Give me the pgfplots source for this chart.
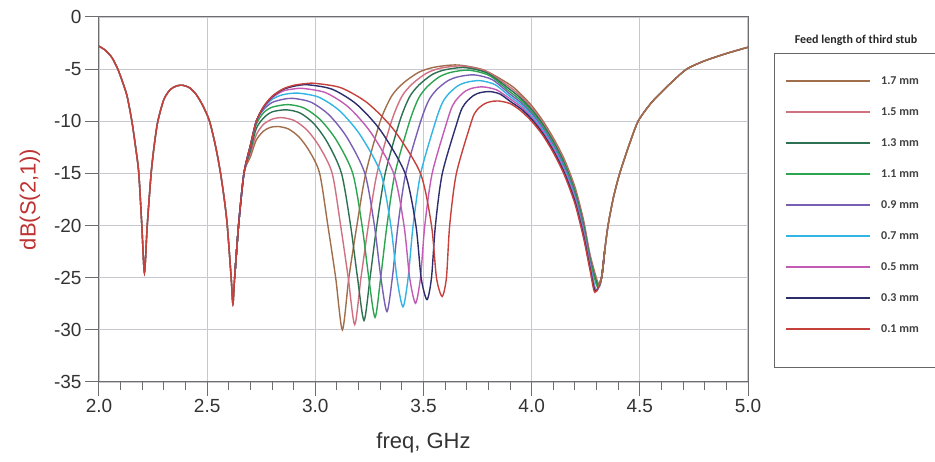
\documentclass[border=0pt]{standalone}
\usepackage{pgfplots}
\pgfplotsset{compat=1.18}
\usepackage{pgfplotstable}
\usepackage{fontspec}
\setmainfont{Liberation Sans}
\newfontfamily\calfont{Carlito}

\definecolor{c17}{RGB}{160,110,75}
\definecolor{c15}{RGB}{208,112,128}
\definecolor{c13}{RGB}{45,112,82}
\definecolor{c11}{RGB}{45,165,80}
\definecolor{c09}{RGB}{120,95,180}
\definecolor{c07}{RGB}{50,180,228}
\definecolor{c05}{RGB}{195,90,180}
\definecolor{c03}{RGB}{45,45,110}
\definecolor{c01}{RGB}{198,65,60}
\definecolor{gridc}{RGB}{200,200,208}
\definecolor{axc}{RGB}{110,110,110}
\definecolor{labc}{RGB}{190,50,50}

\pgfplotstableread{
x y
2.000 -2.8
2.030 -3.2
2.060 -3.9
2.087 -5.0
2.110 -6.3
2.130 -7.6
2.152 -10.0
2.170 -12.6
2.184 -15.0
2.198 -20.0
2.210 -24.5
2.223 -20.0
2.241 -15.0
2.256 -12.2
2.272 -10.0
2.300 -7.9
2.330 -6.95
2.360 -6.6
2.388 -6.55
2.420 -6.8
2.450 -7.45
2.480 -8.5
2.511 -10.0
2.540 -12.5
2.562 -15.0
2.580 -17.6
2.593 -20.0
2.611 -25.0
2.619 -27.5
2.627 -25.0
2.645 -20.0
}\tabHead

\pgfplotstableread{
x y
4.305 -25.8
4.323 -25.0
4.337 -22.5
4.353 -20.0
4.378 -17.3
4.407 -15.0
4.450 -12.3
4.492 -10.0
4.550 -8.3
4.600 -7.2
4.650 -6.2
4.716 -5.0
4.800 -4.2
4.900 -3.5
5.000 -2.9
}\tabTail

\pgfplotstableread{
x y
2.627 -25.0
2.645 -20.0
2.670 -15.0
2.700 -13.4
2.727 -11.8
2.760 -10.95
2.790 -10.6
2.827 -10.5
2.875 -10.73
2.924 -11.49
2.972 -12.84
3.020 -15.0
3.058 -20.0
3.094 -25.0
3.125 -30.0
3.155 -25.0
3.192 -20.0
3.233 -15.0
3.300 -10.0
3.353 -7.57
3.407 -6.33
3.478 -5.30
3.549 -4.82
3.655 -4.6
3.778 -5.08
3.900 -6.5
3.950 -7.4
4.000 -8.5
4.050 -9.9
4.100 -11.6
4.150 -13.6
4.200 -16.3
4.240 -19.5
4.270 -22.8
4.310 -25.7
4.323 -25.0
4.337 -22.5
}\tabA

\pgfplotstableread{
x y
2.627 -25.0
2.645 -20.0
2.670 -15.0
2.700 -13.1
2.727 -11.3
2.760 -10.3
2.800 -9.8
2.843 -9.65
2.902 -9.92
2.961 -10.83
3.019 -12.43
3.078 -15.0
3.117 -20.0
3.152 -25.0
3.182 -29.5
3.211 -25.0
3.245 -20.0
3.285 -15.0
3.352 -10.0
3.400 -7.61
3.449 -6.40
3.514 -5.39
3.578 -4.91
3.675 -4.7
3.788 -5.21
3.900 -6.73
3.950 -7.60
4.000 -8.69
4.050 -10.08
4.100 -11.78
4.150 -13.79
4.200 -16.50
4.240 -19.71
4.270 -22.99
4.308 -25.8
4.323 -25.0
4.337 -22.5
}\tabB

\pgfplotstableread{
x y
2.627 -25.0
2.645 -20.0
2.670 -15.0
2.700 -12.8
2.727 -10.7
2.760 -9.7
2.800 -9.1
2.866 -8.9
2.930 -9.21
2.994 -10.24
3.057 -12.07
3.121 -15.0
3.163 -20.0
3.195 -25.0
3.225 -29.1
3.253 -25.0
3.284 -20.0
3.323 -15.0
3.390 -10.0
3.435 -7.68
3.480 -6.50
3.540 -5.52
3.600 -5.06
3.690 -4.85
3.795 -5.38
3.900 -6.95
3.950 -7.80
4.000 -8.88
4.050 -10.25
4.100 -11.95
4.150 -13.98
4.200 -16.70
4.240 -19.93
4.270 -23.18
4.306 -25.8
4.323 -25.0
4.337 -22.5
}\tabC

\pgfplotstableread{
x y
2.627 -25.0
2.645 -20.0
2.670 -15.0
2.700 -12.5
2.727 -10.3
2.760 -9.2
2.800 -8.65
2.873 -8.4
2.948 -8.73
3.023 -9.85
3.098 -11.83
3.173 -15.0
3.216 -20.0
3.247 -25.0
3.276 -28.8
3.302 -25.0
3.331 -20.0
3.368 -15.0
3.436 -10.0
3.477 -7.80
3.518 -6.67
3.573 -5.74
3.628 -5.30
3.710 -5.1
3.805 -5.62
3.900 -7.18
3.950 -8.00
4.000 -9.06
4.050 -10.43
4.100 -12.13
4.150 -14.16
4.200 -16.90
4.240 -20.14
4.270 -23.36
4.304 -25.9
4.323 -25.0
4.337 -22.5
}\tabD

\pgfplotstableread{
x y
2.627 -25.0
2.645 -20.0
2.670 -15.0
2.700 -12.3
2.727 -10.0
2.760 -8.9
2.800 -8.2
2.850 -7.9
2.896 -7.8
2.979 -8.16
3.063 -9.38
3.146 -11.54
3.229 -15.0
3.273 -20.0
3.303 -25.0
3.331 -28.25
3.356 -25.0
3.382 -20.0
3.418 -15.0
3.487 -10.0
3.524 -8.0
3.561 -6.97
3.611 -6.13
3.661 -5.73
3.735 -5.55
3.818 -6.01
3.900 -7.40
3.950 -8.20
4.000 -9.25
4.050 -10.60
4.100 -12.30
4.150 -14.35
4.200 -17.10
4.240 -20.35
4.270 -23.55
4.296 -26.3
4.323 -25.0
4.337 -22.5
}\tabE

\pgfplotstableread{
x y
2.627 -25.0
2.645 -20.0
2.670 -15.0
2.700 -12.3
2.727 -10.0
2.760 -8.75
2.800 -7.9
2.850 -7.45
2.920 -7.3
3.016 -7.69
3.112 -8.99
3.207 -11.30
3.303 -15.0
3.349 -20.0
3.377 -25.0
3.405 -27.8
3.429 -25.0
3.452 -20.0
3.487 -15.0
3.556 -10.0
3.587 -8.24
3.617 -7.35
3.658 -6.61
3.699 -6.26
3.760 -6.1
3.830 -6.48
3.900 -7.63
3.950 -8.40
4.000 -9.44
4.050 -10.78
4.100 -12.48
4.150 -14.54
4.200 -17.30
4.240 -20.56
4.270 -23.74
4.298 -26.2
4.323 -25.0
4.337 -22.5
}\tabF

\pgfplotstableread{
x y
2.627 -25.0
2.645 -20.0
2.670 -15.0
2.700 -12.3
2.727 -10.0
2.760 -8.7
2.800 -7.75
2.850 -7.1
2.900 -6.9
2.943 -6.85
3.048 -7.26
3.153 -8.64
3.257 -11.09
3.362 -15.0
3.410 -20.0
3.436 -25.0
3.463 -27.45
3.486 -25.0
3.506 -20.0
3.540 -15.0
3.609 -10.0
3.634 -8.51
3.659 -7.76
3.692 -7.13
3.725 -6.83
3.775 -6.7
3.838 -6.99
3.900 -7.85
3.950 -8.60
4.000 -9.63
4.050 -10.95
4.100 -12.65
4.150 -14.73
4.200 -17.50
4.240 -20.78
4.270 -23.93
4.296 -26.3
4.323 -25.0
4.337 -22.5
}\tabG

\pgfplotstableread{
x y
2.627 -25.0
2.645 -20.0
2.670 -15.0
2.700 -12.3
2.727 -10.0
2.760 -8.65
2.800 -7.65
2.850 -6.95
2.910 -6.6
2.966 -6.5
3.078 -6.93
3.191 -8.37
3.303 -10.92
3.415 -15.0
3.465 -20.0
3.489 -25.0
3.516 -27.1
3.537 -25.0
3.555 -20.0
3.587 -15.0
3.657 -10.0
3.679 -8.72
3.702 -8.06
3.732 -7.52
3.761 -7.26
3.806 -7.15
3.853 -7.38
3.900 -8.08
3.950 -8.80
4.000 -9.81
4.050 -11.13
4.100 -12.83
4.150 -14.91
4.200 -17.70
4.240 -20.99
4.270 -24.11
4.294 -26.3
4.323 -25.0
4.337 -22.5
}\tabH

\pgfplotstableread{
x y
2.627 -25.0
2.645 -20.0
2.670 -15.0
2.700 -12.3
2.727 -10.0
2.760 -8.6
2.800 -7.6
2.850 -6.9
2.900 -6.55
2.950 -6.4
2.997 -6.36
3.119 -6.79
3.242 -8.26
3.364 -10.85
3.486 -15.0
3.537 -20.0
3.560 -25.0
3.586 -26.8
3.606 -25.0
3.621 -20.0
3.652 -15.0
3.722 -10.0
3.740 -9.12
3.759 -8.67
3.784 -8.30
3.808 -8.13
3.845 -8.05
3.900 -8.3
3.950 -9.0
4.000 -10.0
4.050 -11.3
4.100 -13.0
4.150 -15.1
4.200 -17.9
4.240 -21.2
4.270 -24.3
4.292 -26.4
4.323 -25.0
4.337 -22.5
}\tabI

\begin{document}
\begin{tikzpicture}
\begin{axis}[
  at={(0pt,0pt)}, anchor=south west,
  scale only axis, width=649pt, height=365pt,
  xmin=2, xmax=5, ymin=-35, ymax=0,
  xtick={2,2.5,3,3.5,4,4.5,5}, ytick={-35,-30,-25,-20,-15,-10,-5,0},
  minor x tick num=4,
  xtick pos=lower, ytick pos=left,
  tick align=outside,
  major tick length=14pt, minor tick length=8pt,
  grid=major,
  major grid style={line width=1.2pt, color=gridc},
  axis line style={line width=1pt, color=axc},
  every tick/.style={line width=1pt, color=axc},
  /pgf/number format/assume math mode=true,
  tick label style={font=\fontsize{19}{22}\selectfont, color=black!80},
  xticklabel style={/pgf/number format/.cd, fixed, fixed zerofill, precision=1},
  yticklabel style={/pgf/number format/.cd, fixed, precision=0},
  xlabel={freq, GHz},
  ylabel={dB(S(2,1))},
  every axis x label/.style={at={(axis description cs:0.5,-0.167)}, anchor=center, font=\fontsize{22}{26}\selectfont, color=black!80},
  every axis y label/.style={at={(axis description cs:-0.1063,0.5)}, anchor=center, rotate=90, font=\fontsize{22}{26}\selectfont, color=labc},
  legend style={at={(axis description cs:1.057,0.867)}, anchor=north west, draw=none, fill=none, inner sep=0pt, row sep=0pt, column sep=10pt,
    font=\calfont\bfseries\fontsize{12}{14}\selectfont, text=black!75,
    nodes={inner sep=0pt, minimum height=31pt}},
  legend cell align=left,
  legend image code/.code={\draw[#1, line width=2pt] (0pt,0pt) -- (84pt,0pt);},
  every axis plot/.append style={line width=1.4pt, smooth, tension=0.45},
]
\addplot[c17] table {\tabA}; \addlegendentry{1.7 mm}
\addplot[c15] table {\tabB}; \addlegendentry{1.5 mm}
\addplot[c13] table {\tabC}; \addlegendentry{1.3 mm}
\addplot[c11] table {\tabD}; \addlegendentry{1.1 mm}
\addplot[c09] table {\tabE}; \addlegendentry{0.9 mm}
\addplot[c07] table {\tabF}; \addlegendentry{0.7 mm}
\addplot[c05] table {\tabG}; \addlegendentry{0.5 mm}
\addplot[c03] table {\tabH}; \addlegendentry{0.3 mm}
\addplot[c01] table {\tabI}; \addlegendentry{0.1 mm}
\addplot[c13, forget plot] table {\tabHead};
\addplot[c09, forget plot] table {\tabHead};
\addplot[c17, forget plot] table {\tabHead};
\addplot[c01, forget plot] table {\tabHead};
\addplot[c11, forget plot] table {\tabTail};
\addplot[c09, forget plot] table {\tabTail};
\addplot[c01, forget plot] table {\tabTail};
\addplot[c17, forget plot] table {\tabTail};
\end{axis}
\draw[color=black!60, line width=0.8pt] (675pt,329pt) rectangle (870pt,15pt);
\node[font=\calfont\bfseries\fontsize{12}{14}\selectfont, text=black!85] at (757pt,342pt) {Feed length of third stub};
\pgfresetboundingbox
\useasboundingbox (-99pt,-80pt) rectangle (836pt,382pt);
\end{tikzpicture}
\end{document}
